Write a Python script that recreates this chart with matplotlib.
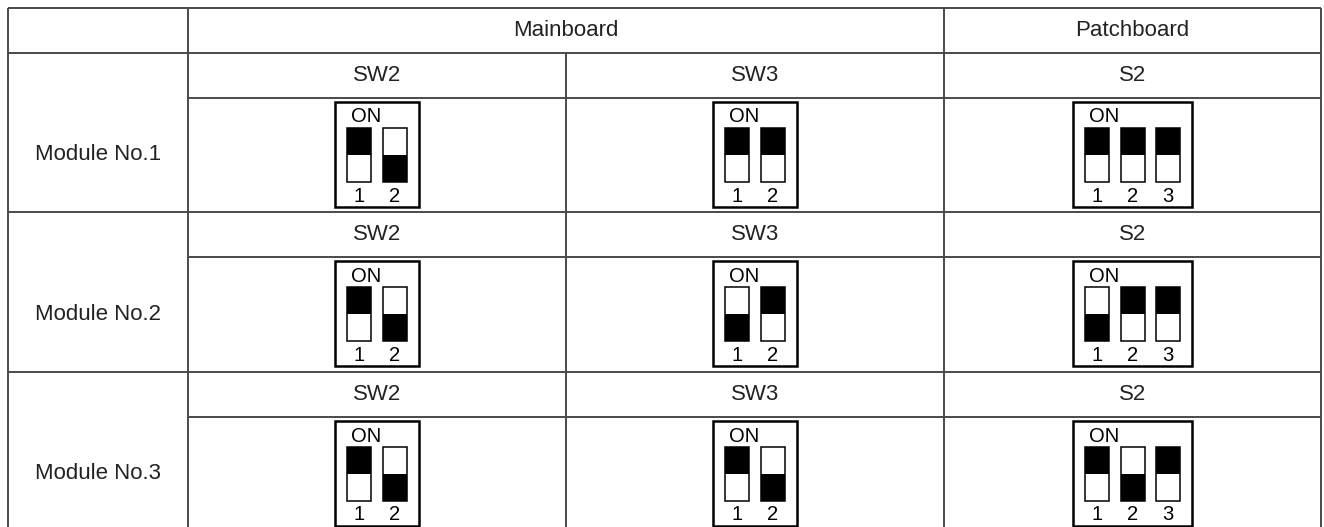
import matplotlib
matplotlib.use('Agg')
import matplotlib.pyplot as plt
from matplotlib.patches import Rectangle

plt.rcParams['font.family'] = ['Liberation Sans', 'DejaVu Sans']

# ── Table content ────────────────────────────────────────────────────────────
BOARDS = ['Mainboard', 'Patchboard']
BOARD_SPAN = [2, 1]                 # how many switch columns each board covers
SWITCHES = ['SW2', 'SW3', 'S2']
MODULES = ['Module No.1', 'Module No.2', 'Module No.3']

# lever position per switch: 1 = up (ON side), 0 = down
SW2_STATE = [[1, 0], [1, 0], [1, 0]]
SW3_STATE = [[1, 1], [0, 1], [1, 0]]
S2_STATE = [[1, 1, 1], [0, 1, 1], [1, 0, 1]]

# ── Layout (pixels, y grows downward) ────────────────────────────────────────
W, H = 1324, 527
X_EDGES = [7.7, 188, 566, 944, 1321]
TOP = 7.7
HEAD_H = 45
LABEL_H = 44.8
SWITCH_H = 114.7
LINE_C = '#4a4a4a'
LINE_W = 1.4
TXT_C = '#222222'
FS = 16


def hline(ax, y, x0, x1):
    ax.plot([x0, x1], [y, y], color=LINE_C, lw=LINE_W, solid_capstyle='butt')


def vline(ax, x, y0, y1):
    ax.plot([x, x], [y0, y1], color=LINE_C, lw=LINE_W, solid_capstyle='butt')


def draw_dip(ax, cx, top, states):
    """DIP switch block: frame, 'ON' mark, levers and position numbers."""
    n = len(states)
    tw, gap, margin = 24, 11.5, 12
    bw = 2 * margin + n * tw + (n - 1) * gap
    bh = 105
    bx = cx - bw / 2
    ax.add_patch(Rectangle((bx, top), bw, bh, fill=False, ec='black', lw=1.8))
    ax.text(bx + margin + 4, top + 21, 'ON', fontsize=14.5, color='black',
            ha='left', va='baseline')
    th = 54
    ty = top + 26
    for i, s in enumerate(states):
        tx = bx + margin + i * (tw + gap)
        ax.add_patch(Rectangle((tx, ty + (0 if s else th / 2)), tw, th / 2,
                               fc='black', ec='none'))
        ax.add_patch(Rectangle((tx, ty), tw, th, fill=False, ec='black', lw=1.1))
        ax.text(tx + tw / 2, top + 100, str(i + 1), fontsize=14.5, color='black',
                ha='center', va='baseline')


def main():
    fig = plt.figure(figsize=(W / 100, H / 100), dpi=100)
    ax = fig.add_axes([0, 0, 1, 1])
    ax.set_xlim(0, W)
    ax.set_ylim(H, 0)
    ax.axis('off')

    left, right = X_EDGES[0], X_EDGES[-1]
    block_h = LABEL_H + SWITCH_H
    bottom = TOP + HEAD_H + len(MODULES) * block_h

    # outer frame + full-height verticals
    hline(ax, TOP, left, right)
    hline(ax, TOP + HEAD_H, left, right)
    vline(ax, left, TOP, bottom)
    vline(ax, right, TOP, bottom)
    vline(ax, X_EDGES[1], TOP, bottom)
    vline(ax, X_EDGES[3], TOP, bottom)
    vline(ax, X_EDGES[2], TOP + HEAD_H, bottom)

    # header
    col = 1
    for name, span in zip(BOARDS, BOARD_SPAN):
        x0, x1 = X_EDGES[col], X_EDGES[col + span]
        ax.text((x0 + x1) / 2, TOP + HEAD_H / 2, name, fontsize=FS, color=TXT_C,
                ha='center', va='center')
        col += span

    states = [SW2_STATE, SW3_STATE, S2_STATE]
    for m, mod in enumerate(MODULES):
        y0 = TOP + HEAD_H + m * block_h
        ys = y0 + LABEL_H
        hline(ax, ys, X_EDGES[1], right)
        hline(ax, y0 + block_h, left, right)
        ax.text((X_EDGES[0] + X_EDGES[1]) / 2, ys + SWITCH_H / 2, mod,
                fontsize=FS, color=TXT_C, ha='center', va='center')
        for c, sw in enumerate(SWITCHES):
            cx = (X_EDGES[c + 1] + X_EDGES[c + 2]) / 2
            ax.text(cx, y0 + LABEL_H / 2, sw, fontsize=FS, color=TXT_C,
                    ha='center', va='center')
            draw_dip(ax, cx, ys + 4, states[c][m])

    fig.savefig('out.png', dpi=100)


if __name__ == '__main__':
    main()
